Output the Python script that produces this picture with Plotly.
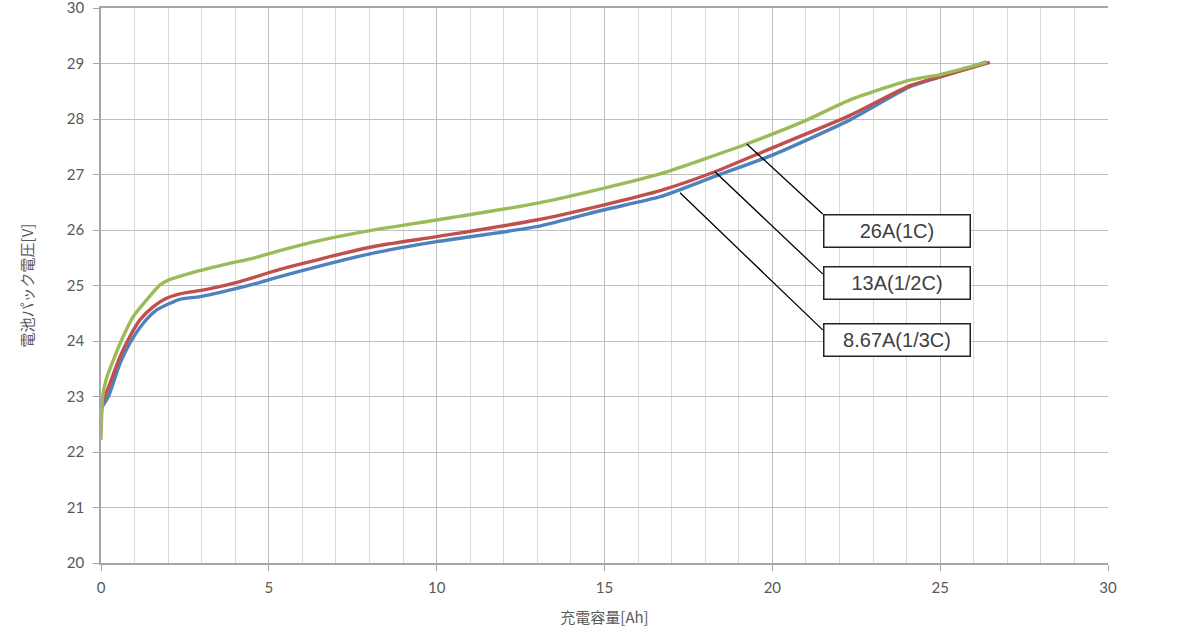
import plotly.graph_objects as go

# 26A (1C) - green
x_1c = [0, 0.05, 0.15, 0.37, 0.66, 0.96, 1.36, 1.76, 2.06, 2.65, 3.64, 4.64, 5.33, 6.5, 8.01, 10.0, 12.98, 14.96, 16.66, 19.23, 21.02, 22.3, 24.1, 25.0, 26.38]
y_1c = [22.22, 23.0, 23.3, 23.66, 24.08, 24.44, 24.74, 25.01, 25.11, 25.22, 25.37, 25.51, 25.63, 25.81, 25.99, 26.18, 26.48, 26.75, 27.01, 27.55, 27.98, 28.34, 28.7, 28.8, 29.02]

# 13A (1/2C) - red
x_half = [0, 0.03, 0.27, 0.57, 0.86, 1.16, 1.56, 1.95, 2.35, 3.15, 4.14, 5.33, 8.01, 10.0, 12.98, 14.96, 16.66, 18.29, 20.0, 22.3, 24.1, 25.0, 26.48]
y_half = [22.62, 22.85, 23.24, 23.72, 24.08, 24.38, 24.62, 24.77, 24.85, 24.93, 25.07, 25.29, 25.69, 25.88, 26.18, 26.45, 26.71, 27.05, 27.48, 28.06, 28.6, 28.76, 29.02]

# 8.67A (1/3C) - blue
x_third = [0, 0.03, 0.22, 0.57, 0.86, 1.26, 1.66, 2.06, 2.35, 2.95, 3.64, 4.64, 5.33, 8.01, 10.0, 12.98, 14.96, 16.66, 18.3, 20.0, 22.3, 24.1, 25.0, 26.38]
y_third = [22.55, 22.8, 23.0, 23.6, 23.96, 24.32, 24.56, 24.68, 24.75, 24.8, 24.89, 25.04, 25.16, 25.57, 25.79, 26.06, 26.36, 26.6, 26.97, 27.35, 27.98, 28.58, 28.76, 29.03]

labels = ["26A(1C)", "13A(1/2C)", "8.67A(1/3C)"]
# leader line: point on curve -> box corner; box centre
pointers = [(19.24, 27.55), (18.29, 27.05), (17.25, 26.67)]
box_corners = [(21.5, 26.29), (21.5, 25.21), (21.5, 24.2)]
box_centres = [(23.71, 25.99), (23.71, 25.04), (23.71, 24.02)]

fig = go.Figure()
for xs, ys, c in [(x_third, y_third, "#4f81bd"), (x_half, y_half, "#c0504d"), (x_1c, y_1c, "#9bbb59")]:
    fig.add_trace(go.Scatter(x=xs, y=ys, mode="lines",
                             line=dict(color=c, width=3.4, shape="spline", smoothing=0.6),
                             showlegend=False, hoverinfo="skip"))

for (px, py), (bx, by) in zip(pointers, box_corners):
    fig.add_shape(type="line", x0=px, y0=py, x1=bx, y1=by, xref="x", yref="y",
                  line=dict(color="black", width=1.3))

for t, (cx, cy) in zip(labels, box_centres):
    fig.add_annotation(x=cx, y=cy, xref="x", yref="y", text=t, showarrow=False,
                       font=dict(family="Liberation Sans, Arial", size=20, color="#404040"),
                       bgcolor="white", bordercolor="#222222", borderwidth=1.5,
                       width=143, height=29)

fig.update_layout(
    width=1200, height=639,
    margin=dict(l=101, r=92, t=8, b=76, autoexpand=False),
    paper_bgcolor="white", plot_bgcolor="white",
    font=dict(family="Lato, Open Sans, sans-serif", size=15, color="#595959"),
)
fig.update_xaxes(range=[0, 30.0001], dtick=5, tick0=0, showgrid=True, gridcolor="#bfbfbf", gridwidth=1,
                 minor=dict(dtick=1, showgrid=True, gridcolor="#d9d9d9", gridwidth=1),
                 showline=True, linecolor="#a6a6a6", linewidth=1.5, automargin=False, mirror=True,
                 ticks="outside", ticklen=6, tickcolor="#a6a6a6", zeroline=False, ticklabelstandoff=4,
                 ticklabeloverflow="allow",
                 title=dict(text="充電容量[Ah]", font=dict(family="Noto Sans CJK JP", size=15, color="#595959"), standoff=18))
fig.update_yaxes(range=[20, 30.0001], dtick=1, tick0=20, showgrid=True, gridcolor="#bfbfbf", gridwidth=1,
                 showline=True, linecolor="#a6a6a6", linewidth=1.5, automargin=False,
                 ticks="outside", ticklen=6, tickcolor="#a6a6a6", zeroline=False, ticklabelstandoff=6,
                 ticklabeloverflow="allow",
                 title=dict(text="電池パック電圧[V]", font=dict(family="Noto Sans CJK JP", size=15, color="#595959"), standoff=30))

fig.write_html("out.html", config={"displayModeBar": False},
               post_script="document.body.style.margin='0';document.body.style.padding='0';")
